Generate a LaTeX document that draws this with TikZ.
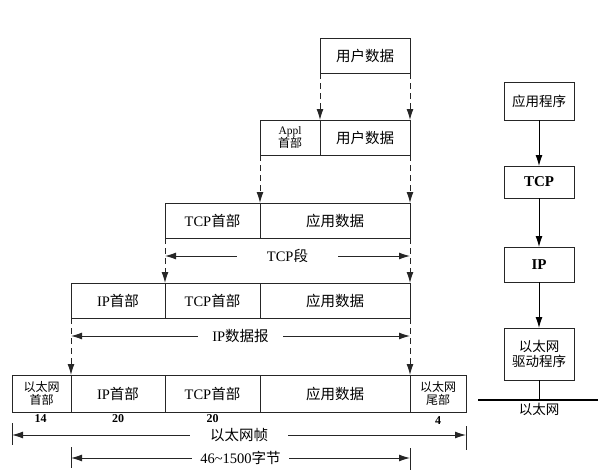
\documentclass[tikz,border=0pt]{standalone}
\usepackage{fontspec}
\setmainfont{Liberation Serif}
\newfontfamily\cjk{Noto Sans CJK SC}
\usetikzlibrary{positioning, arrows.meta, calc}

% Chinese text inside mixed labels
\newcommand{\zh}[1]{{\cjk #1}}

\begin{document}
\begin{tikzpicture}[
		x=1pt, y=-1pt,
		>={Latex[length=11pt,width=7pt]},
		% Styles for the packet fields
		field/.style={
			draw=black!85, line width=1pt, outer sep=0pt, inner sep=0pt,
			minimum height=35pt, align=center, font=\fontsize{14.5}{16}\selectfont
		},
		smallfield/.style={font=\fontsize{12}{13}\selectfont},
		% Style for the encapsulation arrows
		encap/.style={->, draw=black!85, line width=1pt, dash pattern=on 6pt off 4pt},
		% Styles for the length markers
		dim/.style={<->, draw=black!85, line width=1pt},
		dimlabel/.style={
			midway, fill=white, inner xsep=14pt, inner ysep=1pt,
			font=\fontsize{14.5}{16}\selectfont
		},
		tick/.style={draw=black!85, line width=1pt},
		bytes/.style={anchor=north, inner sep=0pt, font=\bfseries\fontsize{12}{13}\selectfont},
		% Style for the protocol stack
		layer/.style={
			draw=black!85, line width=1pt, outer sep=0pt, minimum width=70pt,
			align=center, font=\fontsize{13.5}{15.5}\selectfont
		}
		]
		
		\useasboundingbox (0,0) rectangle (616,474);
		
		% ==========================================
		% 1. User data
		% ==========================================
		\node[field, minimum width=90pt, anchor=north west] (user0) at (320,38) {\zh{用户数据}};
		
		% ==========================================
		% 2. Application header added
		% ==========================================
		\node[field, smallfield, minimum width=60pt, anchor=north west] (applhdr) at (260,120)
			{{\fontsize{11.5}{12}\selectfont Appl}\\\zh{首部}};
		\node[field, minimum width=90pt, right=0pt of applhdr] (user1) {\zh{用户数据}};
		
		\draw[encap] (user0.south west) -- (user1.north west);
		\draw[encap] (user0.south east) -- (user1.north east);
		
		% ==========================================
		% 3. TCP segment
		% ==========================================
		\node[field, minimum width=95pt, anchor=north west] (tcphdr1) at (165,203) {TCP\zh{首部}};
		\node[field, minimum width=150pt, right=0pt of tcphdr1] (appdata1) {\zh{应用数据}};
		
		\draw[encap] (applhdr.south west) -- (appdata1.north west);
		\draw[encap] (user1.south east) -- (appdata1.north east);
		
		\draw[dim] ($(tcphdr1.south west)+(0,18)$) -- ($(appdata1.south east)+(0,18)$)
			node[dimlabel, inner xsep=30pt] {TCP\zh{段}};
		
		% ==========================================
		% 4. IP datagram
		% ==========================================
		\node[field, minimum width=94pt, anchor=north west] (iphdr2) at (71,283) {IP\zh{首部}};
		\node[field, minimum width=95pt, right=0pt of iphdr2] (tcphdr2) {TCP\zh{首部}};
		\node[field, minimum width=150pt, right=0pt of tcphdr2] (appdata2) {\zh{应用数据}};
		
		\draw[encap] (tcphdr1.south west) -- (tcphdr2.north west);
		\draw[encap] (appdata1.south east) -- (appdata2.north east);
		
		\draw[dim] ($(iphdr2.south west)+(0,18)$) -- ($(appdata2.south east)+(0,18)$)
			node[dimlabel] {IP\zh{数据报}};
		
		% ==========================================
		% 5. Ethernet frame
		% ==========================================
		\node[field, smallfield, minimum width=59pt, minimum height=37pt, anchor=north west] (ethhdr) at (12,375)
			{\zh{以太网}\\\zh{首部}};
		\node[field, minimum width=94pt, minimum height=37pt, right=0pt of ethhdr] (iphdr3) {IP\zh{首部}};
		\node[field, minimum width=95pt, minimum height=37pt, right=0pt of iphdr3] (tcphdr3) {TCP\zh{首部}};
		\node[field, minimum width=150pt, minimum height=37pt, right=0pt of tcphdr3] (appdata3) {\zh{应用数据}};
		\node[field, smallfield, minimum width=56pt, minimum height=37pt, right=0pt of appdata3] (ethtrl)
			{\zh{以太网}\\\zh{尾部}};
		
		\draw[encap] (iphdr2.south west) -- (iphdr3.north west);
		\draw[encap] (appdata2.south east) -- (appdata3.north east);
		
		% field sizes
		\node[bytes] (n14) at ($(ethhdr.south)+(-1,2)$) {14};
		\node[bytes] (n20a) at ($(iphdr3.south)+(0,2)$) {20};
		\node[bytes] (n20b) at ($(tcphdr3.south)+(0,2)$) {20};
		\node[bytes] (n4) at ($(ethtrl.south)+(0,4)$) {4};
		
		% frame and payload lengths
		\draw[tick] ($(ethhdr.south west)+(0,11)$) -- ++(0,22);
		\draw[tick] ($(ethtrl.south east)+(0,14)$) -- ++(0,24);
		\draw[dim] ($(ethhdr.south west)+(0,23)$) -- ($(ethtrl.south east)+(0,23)$)
			node[dimlabel, inner xsep=20pt] {\zh{以太网帧}};
		
		\draw[tick] ($(iphdr3.south west)+(0,35)$) -- ++(0,21);
		\draw[tick] ($(appdata3.south east)+(0,36)$) -- ++(0,22);
		\draw[dim] ($(iphdr3.south west)+(0,46)$) -- ($(appdata3.south east)+(0,46)$)
			node[dimlabel, inner xsep=8pt] {46\textasciitilde1500\zh{字节}};
		
		% ==========================================
		% 6. The protocol stack on the right
		% ==========================================
		\node[layer, minimum height=38pt] (app) at (539,101) {\zh{应用程序}};
		\node[layer, minimum height=32pt, below=46pt of app] (tcp) {\bfseries\fontsize{15}{16}\selectfont TCP};
		\node[layer, minimum height=35pt, below=49pt of tcp] (ip) {\bfseries\fontsize{15}{16}\selectfont IP};
		\node[layer, minimum height=52pt, below=46pt of ip, inner sep=1pt] (drv)
			{\zh{以太网}\\\zh{驱动程序}};
		
		\draw[->, line width=1pt] (app) -- (tcp);
		\draw[->, line width=1pt] (tcp) -- (ip);
		\draw[->, line width=1pt] (ip) -- (drv);
		
		% the wire
		\coordinate (wireL) at (478,400);
		\coordinate (wireR) at (598,400);
		\draw[line width=2.5pt] (wireL) -- (wireR);
		\draw[line width=1pt] (drv.south) -- (drv.south |- wireL);
		\node[font=\fontsize{13.5}{14}\selectfont, inner sep=0pt, anchor=north] (wirelbl)
			at ($(drv.south |- wireL)+(0,3)$) {\zh{以太网}};
		
	\end{tikzpicture}
\end{document}
